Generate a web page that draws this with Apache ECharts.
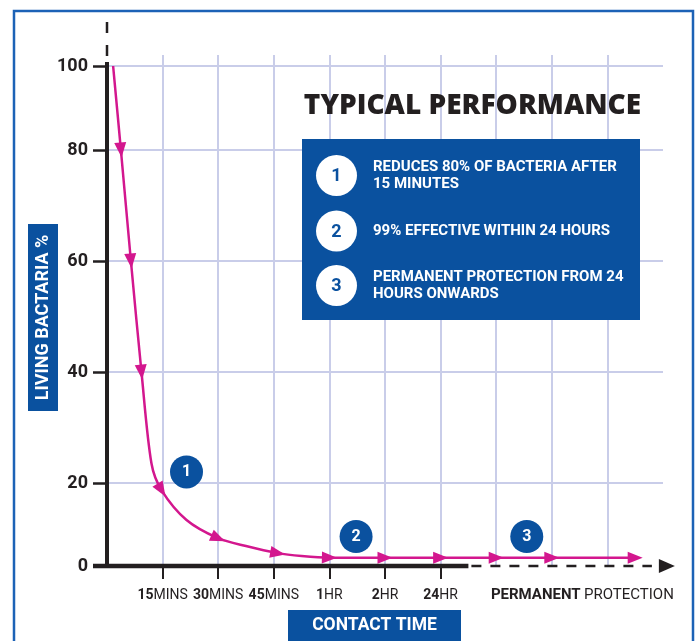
<!DOCTYPE html>
<html><head><meta charset="utf-8">
<script src="https://cdn.jsdelivr.net/npm/echarts@6/dist/echarts.min.js"></script>
<style>html,body{margin:0;padding:0;background:#fff}#c{width:700px;height:641px}</style>
</head><body><div id="c"></div>
<script>
// ---------- data ----------
const xTickValues = [1, 2, 3, 4, 5, 6];
const xTickLabels = ['15MINS', '30MINS', '45MINS', '1HR', '2HR', '24HR'];
const xGridValues = [1, 2, 3, 4, 5, 6, 7, 8, 9];
const permanentPos = 8.55;
const permanentLabel = ['PERMANENT', 'PROTECTION'];
const yTickLabels = [0, 20, 40, 60, 80, 100];
const curveX = [0.11, 0.25, 0.43, 0.62, 0.80, 0.98, 1.43, 2.0, 2.5, 3.07, 3.5, 4, 5, 6, 7, 8, 9.5];
const curveY = [100, 80, 60, 40, 23.5, 18.3, 11.1, 6.7, 4.8, 3.1, 2.4, 2, 2, 2, 2, 2, 2];
const arrowIdx = [1, 2, 3, 5, 7, 9, 11, 12, 13, 14, 15, 16];
const calloutX = [1.43, 4.48, 7.55];
const calloutY = [22.0, 7.1, 7.1];
const calloutLabels = ['1', '2', '3'];
const legendNums = ['1', '2', '3'];
const legendTexts = [['REDUCES 80% OF BACTERIA AFTER', '15 MINUTES'], ['99% EFFECTIVE WITHIN 24 HOURS'], ['PERMANENT PROTECTION FROM 24', 'HOURS ONWARDS']];
const titleText = 'TYPICAL PERFORMANCE';
const yName = 'LIVING BACTARIA %';
const xName = 'CONTACT TIME';

// ---------- layout / style ----------
const BLUE = '#0a519f', MAG = '#d3178e', INK = '#231f20', GRID = '#c9cde9', FRAME = '#1c62b6';
const FONT = 'Roboto, "Noto Sans", sans-serif';
// the printed y scale is not uniform: axis-layout units for each tick label
const yStops = [0, 83, 194, 305, 416, 500];
function warp(p) {
  for (let i = 1; i < yTickLabels.length; i++) {
    if (p <= yTickLabels[i]) {
      const a = yTickLabels[i - 1], b = yTickLabels[i];
      return yStops[i - 1] + (p - a) / (b - a) * (yStops[i] - yStops[i - 1]);
    }
  }
  return yStops[yStops.length - 1];
}

const chart = echarts.init(document.getElementById('c'));

function xLabel(v) {
  if (Math.abs(v - permanentPos) < 1e-6) return '{pb|' + permanentLabel[0] + '} {pr|' + permanentLabel[1] + '}';
  const i = xTickValues.indexOf(v);
  if (i < 0) return '';
  const m = xTickLabels[i].match(/^(\d+)(.*)$/);
  return '{b|' + m[1] + '}{r|' + m[2] + '}';
}

const lineData = curveX.map((x, i) => ({
  value: [x, warp(curveY[i])],
  symbol: arrowIdx.includes(i) ? 'triangle' : 'none'
}));

chart.setOption({
  animation: false,
  grid: { left: 107, right: 37, top: 55, bottom: 75 },
  xAxis: [{
    type: 'value', min: 0, max: 10, position: 'bottom',
    axisLine: { show: false },
    axisTick: { show: false, customValues: xGridValues },
    axisLabel: { show: false },
    splitLine: { show: true, lineStyle: { color: GRID, width: 2 } }
  }, {
    type: 'value', min: 0, max: 10, position: 'bottom',
    axisLine: { show: false },
    axisTick: { show: true, customValues: xTickValues, length: 13, lineStyle: { color: INK, width: 2 } },
    axisLabel: {
      show: true, customValues: xTickValues.concat([permanentPos]), margin: 22,
      formatter: xLabel,
      rich: {
        b: { fontFamily: FONT, fontWeight: 'bold', fontSize: 14, color: INK },
        r: { fontFamily: FONT, fontWeight: 'normal', fontSize: 14, color: INK },
        pb: { fontFamily: FONT, fontWeight: 'bold', fontSize: 15, color: INK },
        pr: { fontFamily: FONT, fontWeight: 'normal', fontSize: 15, color: INK }
      }
    },
    splitLine: { show: false }
  }],
  yAxis: {
    type: 'value', min: 0, max: 511,
    axisLine: { show: false },
    axisTick: { show: true, customValues: yStops.slice(1), length: 14, lineStyle: { color: INK, width: 2.5 } },
    axisLabel: {
      customValues: yStops, margin: 19,
      formatter: v => String(yTickLabels[yStops.indexOf(v)]),
      fontFamily: FONT, fontWeight: 'bold', fontSize: 18, color: INK
    },
    splitLine: { show: true, lineStyle: { color: GRID, width: 2 } }
  },
  series: [{
    type: 'line', xAxisIndex: 0, data: lineData, smooth: 0.3,
    symbol: 'none', symbolSize: [12, 15], showSymbol: true,
    lineStyle: { color: MAG, width: 2.5 }, itemStyle: { color: MAG },
    z: 5
  }, {
    type: 'scatter', xAxisIndex: 0,
    data: calloutX.map((x, i) => [x, warp(calloutY[i])]),
    symbol: 'circle', symbolSize: [33, 33],
    itemStyle: { color: BLUE, opacity: 1 },
    emphasis: { disabled: true },
    label: { show: true, position: 'inside', formatter: p => calloutLabels[p.dataIndex], color: '#fff', fontFamily: FONT, fontWeight: 'bold', fontSize: 16 },
    z: 6
  }]
});

// arrow orientation from neighbouring points, in pixels
const pix = lineData.map(d => chart.convertToPixel({ gridIndex: 0 }, d.value));
lineData.forEach((d, i) => {
  if (d.symbol !== 'triangle') return;
  const a = pix[Math.max(0, i - 1)], b = pix[Math.min(pix.length - 1, i + 1)];
  const ang = Math.atan2(-(b[1] - a[1]), b[0] - a[0]) * 180 / Math.PI;
  d.symbolRotate = ang - 90;
});

const o = chart.convertToPixel({ gridIndex: 0 }, [0, 0]);
const top100 = chart.convertToPixel({ gridIndex: 0 }, [0, warp(100)]);
const xSolidEnd = chart.convertToPixel({ gridIndex: 0 }, [6.5, 0]);
const xDashEnd = chart.convertToPixel({ gridIndex: 0 }, [9.8, 0]);

const graphics = [
  { type: 'rect', shape: { x: 14, y: 11, width: 679, height: 680 }, style: { fill: 'none', stroke: FRAME, lineWidth: 2.5 }, z: 100 },
  { type: 'line', shape: { x1: o[0], y1: top100[1] - 4, x2: o[0], y2: o[1] + 2 }, style: { stroke: INK, lineWidth: 4 }, z: 100 },
  { type: 'line', shape: { x1: o[0], y1: 22, x2: o[0], y2: top100[1] - 9 }, style: { stroke: INK, lineWidth: 2.5, lineDash: [11, 12] }, z: 100 },
  { type: 'line', shape: { x1: o[0] - 14, y1: o[1], x2: xSolidEnd[0], y2: o[1] }, style: { stroke: INK, lineWidth: 4.5 }, z: 100 },
  { type: 'line', shape: { x1: xSolidEnd[0] + 3, y1: o[1], x2: xDashEnd[0], y2: o[1] }, style: { stroke: INK, lineWidth: 2.5, lineDash: [10, 9] }, z: 100 },
  { type: 'polygon', shape: { points: [[xDashEnd[0] + 7, o[1] - 7], [xDashEnd[0] + 23, o[1]], [xDashEnd[0] + 7, o[1] + 7]] }, style: { fill: INK }, z: 100 },
  // y name box
  { type: 'rect', shape: { x: 28, y: 224, width: 30, height: 187 }, style: { fill: BLUE }, z: 100 },
  { type: 'text', x: 43, y: 317.5, rotation: Math.PI / 2, style: { text: yName, fill: '#fff', font: 'bold 18px ' + FONT, align: 'center', verticalAlign: 'middle' }, z: 101 },
  // x name box
  { type: 'rect', shape: { x: 288, y: 610, width: 173, height: 31 }, style: { fill: BLUE }, z: 100 },
  { type: 'text', x: 374.5, y: 625.5, style: { text: xName, fill: '#fff', font: 'bold 17.5px ' + FONT, align: 'center', verticalAlign: 'middle' }, z: 101 },
  // title
  { type: 'text', x: 472.5, y: 106, style: { text: titleText, fill: INK, font: '800 28px "Open Sans", ' + FONT, align: 'center', verticalAlign: 'middle' }, z: 100 },
  // info box
  { type: 'rect', shape: { x: 302, y: 139, width: 338, height: 181 }, style: { fill: BLUE }, z: 100 }
];
const rowY = [175.5, 231, 285.5];
legendNums.forEach((n, i) => {
  graphics.push({ type: 'circle', shape: { cx: 336.5, cy: rowY[i], r: 20.5 }, style: { fill: '#fff' }, z: 101 });
  graphics.push({ type: 'text', x: 336.5, y: rowY[i] + 1, style: { text: n, fill: BLUE, font: 'bold 18px ' + FONT, align: 'center', verticalAlign: 'middle' }, z: 102 });
  const lines = legendTexts[i];
  lines.forEach((t, k) => {
    graphics.push({ type: 'text', x: 373, y: rowY[i] + (k - (lines.length - 1) / 2) * 17, style: { text: t, fill: '#fff', font: 'bold 15px ' + FONT, align: 'left', verticalAlign: 'middle' }, z: 102 });
  });
});

chart.setOption({ series: [{ data: lineData }], graphic: graphics });
</script></body></html>
